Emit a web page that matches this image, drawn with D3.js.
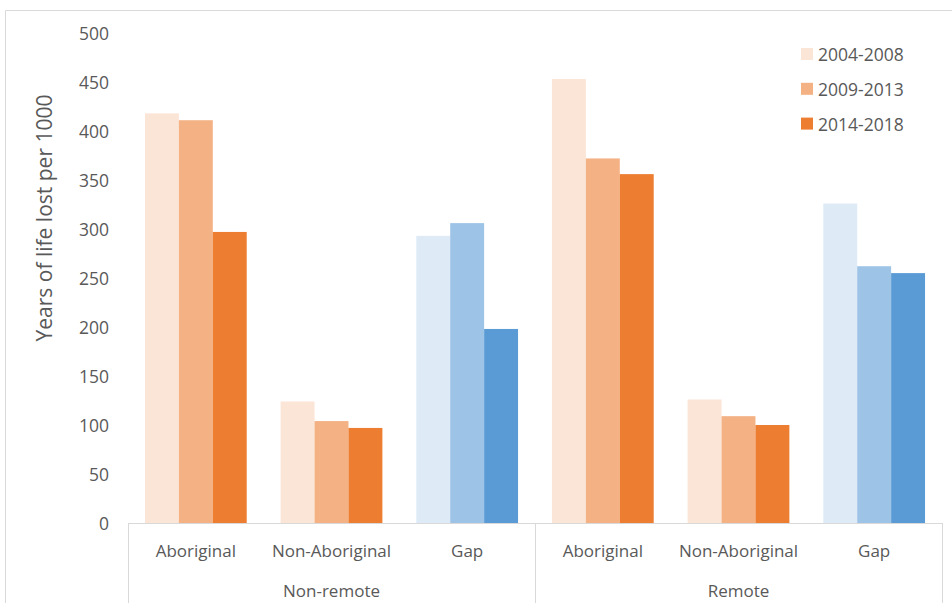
<!DOCTYPE html>
<html>
<head>
<meta charset="utf-8">
<script src="https://cdn.jsdelivr.net/npm/d3@7"></script>
<style>
  html, body { margin: 0; padding: 0; background: #fff; }
  svg { display: block; font-family: "Open Sans", "Liberation Sans", sans-serif; }
</style>
</head>
<body>
<svg id="chart" width="952" height="603"></svg>
<script>
// Years of life lost per 1000, by remoteness and population
const groups = ["Non-remote", "Remote"];
const categories = ["Aboriginal", "Non-Aboriginal", "Gap"];
const periods = ["2004-2008", "2009-2013", "2014-2018"];

// values per period, in order: Aboriginal, Non-Aboriginal, Gap
const nonRemoteValues = [
  [418, 411, 297],
  [124, 104, 97],
  [293, 306, 198]
];
const remoteValues = [
  [453, 372, 356],
  [126, 109, 100],
  [326, 262, 255]
];
const yTicks = [0, 50, 100, 150, 200, 250, 300, 350, 400, 450, 500];

const orangeShades = ["#FBE5D6", "#F4B183", "#ED7D31"];
const blueShades = ["#DEEBF7", "#9DC3E6", "#5B9BD5"];

const svg = d3.select("#chart");
const W = 952, H = 603;
const plotLeft = 128, plotRight = 942, plotTop = 33, plotBottom = 523;

// outer chart frame
svg.append("path")
  .attr("d", `M5.5,${H} V10.5 H${W}`)
  .attr("fill", "none")
  .attr("stroke", "#d9d9d9")
  .attr("stroke-width", 1);

// flatten the two groups into one sequence of category slots
const slots = [];
groups.forEach((g, gi) => {
  const vals = gi === 0 ? nonRemoteValues : remoteValues;
  categories.forEach((c, ci) => {
    slots.push({ key: g + "|" + c, group: g, category: c, values: vals[ci] });
  });
});

const x0 = d3.scaleBand()
  .domain(slots.map(d => d.key))
  .range([plotLeft, plotRight])
  .paddingInner(0.25)
  .paddingOuter(0.125);

const x1 = d3.scaleBand()
  .domain(periods)
  .range([0, x0.bandwidth()])
  .padding(0);

const y = d3.scaleLinear().domain([0, 500]).range([plotBottom, plotTop]);

// y axis tick labels (no axis line or gridlines)
const yAxis = d3.axisLeft(y).tickValues(yTicks).tickSize(0).tickPadding(0);
const yg = svg.append("g")
  .attr("transform", `translate(${plotLeft - 19},0)`)
  .call(yAxis);
yg.select(".domain").remove();
yg.selectAll("text")
  .attr("font-size", "17.5px")
  .attr("fill", "#595959")
  .attr("font-family", "'Open Sans', sans-serif")
  .attr("dy", "0.36em");

// axis title
svg.append("text")
  .attr("transform", `translate(52,${(plotTop + plotBottom) / 2 - 60}) rotate(-90)`)
  .attr("text-anchor", "middle")
  .attr("font-size", "21px")
  .attr("fill", "#595959")
  .text("Years of life lost per 1000");

// bars
const slotG = svg.append("g").selectAll("g")
  .data(slots)
  .join("g")
  .attr("transform", d => `translate(${x0(d.key)},0)`);

slotG.selectAll("rect")
  .data(d => d.values.map((v, i) => ({
    period: periods[i], value: v, idx: i, gap: d.category === "Gap"
  })))
  .join("rect")
  .attr("x", d => x1(d.period))
  .attr("y", d => y(d.value))
  .attr("width", x1.bandwidth())
  .attr("height", d => y(0) - y(d.value))
  .attr("fill", d => (d.gap ? blueShades : orangeShades)[d.idx]);

// category axis: baseline and group separators
const axisColor = "#d9d9d9";
svg.append("line")
  .attr("x1", plotLeft).attr("x2", plotRight)
  .attr("y1", plotBottom + 0.5).attr("y2", plotBottom + 0.5)
  .attr("stroke", axisColor);

const step = x0.step();
const sepX = [plotLeft, plotLeft + step * categories.length, plotRight];
svg.selectAll(".sep")
  .data(sepX)
  .join("line")
  .attr("class", "sep")
  .attr("x1", d => Math.round(d) + 0.5).attr("x2", d => Math.round(d) + 0.5)
  .attr("y1", plotBottom).attr("y2", H)
  .attr("stroke", axisColor);

// category labels
svg.selectAll(".cat")
  .data(slots)
  .join("text")
  .attr("class", "cat")
  .attr("x", d => x0(d.key) + x0.bandwidth() / 2)
  .attr("y", 557)
  .attr("text-anchor", "middle")
  .attr("font-size", "17px")
  .attr("fill", "#595959")
  .text(d => d.category);

// group labels
svg.selectAll(".grp")
  .data(groups)
  .join("text")
  .attr("class", "grp")
  .attr("x", (d, i) => plotLeft + step * categories.length * (i + 0.5))
  .attr("y", 597)
  .attr("text-anchor", "middle")
  .attr("font-size", "17px")
  .attr("fill", "#595959")
  .text(d => d);

// legend
const legend = svg.append("g").attr("transform", "translate(801,48)");
const li = legend.selectAll("g")
  .data(periods)
  .join("g")
  .attr("transform", (d, i) => `translate(0,${i * 34.8})`);
li.append("rect")
  .attr("width", 12).attr("height", 12)
  .attr("fill", (d, i) => orangeShades[i]);
li.append("text")
  .attr("x", 17).attr("y", 13)
  .attr("font-size", "17.5px")
  .attr("fill", "#595959")
  .text(d => d);
</script>
</body>
</html>
